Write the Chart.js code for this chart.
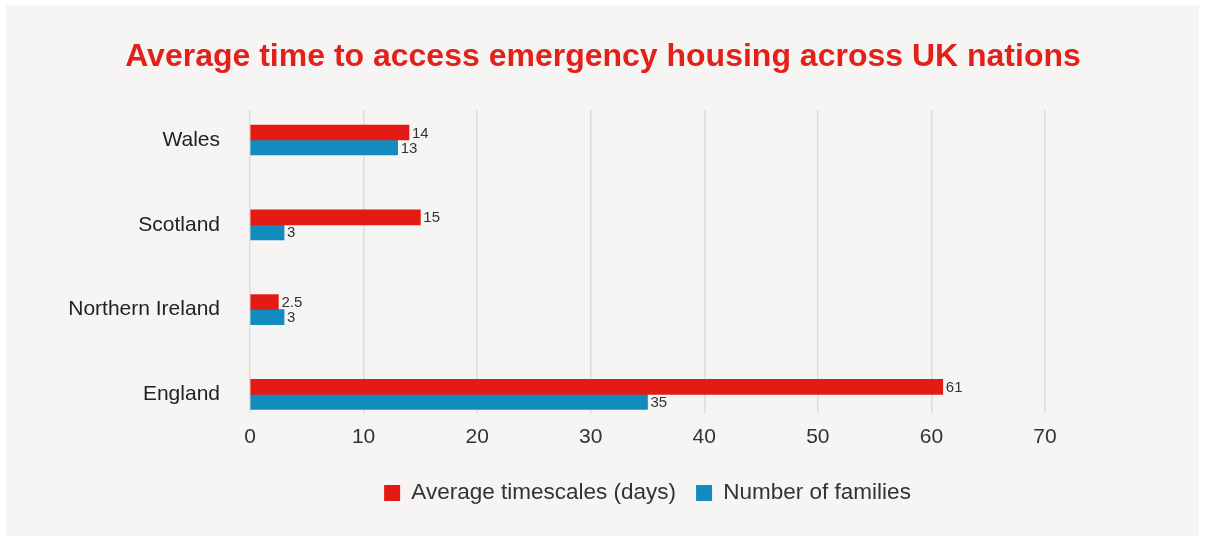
<!DOCTYPE html>
<html>
<head>
<meta charset="utf-8">
<script src="https://cdn.jsdelivr.net/npm/chart.js@4/dist/chart.umd.min.js"></script>
<style>
  html, body { margin: 0; padding: 0; background: #ffffff; }
  #wrap { position: relative; width: 1206px; height: 536px; }
</style>
</head>
<body>
<div id="wrap"><canvas id="c" width="1206" height="536"></canvas></div>
<script>
const categories = ["Wales", "Scotland", "Northern Ireland", "England"];
const avgTimescales = [14, 15, 2.5, 61];
const numFamilies = [13, 3, 3, 35];
const xTicks = [0, 10, 20, 30, 40, 50, 60, 70];
const seriesNames = ["Average timescales (days)", "Number of families"];
const titleText = "Average time to access emergency housing across UK nations";

const FONT = "'Liberation Sans', Arial, Helvetica, sans-serif";

const panelPlugin = {
  id: 'panel',
  beforeDraw(chart) {
    const ctx = chart.ctx;
    ctx.save();
    ctx.fillStyle = '#ffffff';
    ctx.fillRect(0, 0, chart.width, chart.height);
    ctx.fillStyle = '#f6f5f3';
    ctx.fillRect(6, 5, 1193, 531);
    ctx.restore();
  }
};

// centre the legend under the plot area (as in the reference)
const legendShiftPlugin = {
  id: 'legendShift',
  afterLayout(chart) {
    const lg = chart.legend;
    const ca = chart.chartArea;
    if (!lg || !ca) return;
    const shift = (ca.left + ca.right) / 2 - (lg.left + lg.right) / 2;
    lg.left += shift;
    lg.right += shift;
    if (lg.legendHitBoxes) lg.legendHitBoxes.forEach(h => { h.left += shift; });
  }
};

const labelPlugin = {
  id: 'barLabels',
  afterDatasetsDraw(chart) {
    const ctx = chart.ctx;
    ctx.save();
    ctx.font = "15px " + FONT;
    ctx.fillStyle = '#333333';
    ctx.textAlign = 'left';
    ctx.textBaseline = 'middle';
    chart.data.datasets.forEach((ds, di) => {
      const meta = chart.getDatasetMeta(di);
      meta.data.forEach((bar, i) => {
        const v = ds.data[i].x;
        ctx.fillText(String(v), bar.x + 3, bar.y + 1);
      });
    });
    ctx.restore();
  }
};

new Chart(document.getElementById('c'), {
  type: 'bar',
  data: {
    datasets: [
      {
        label: seriesNames[0],
        data: avgTimescales.map((v, i) => ({ x: v, y: i })),
        backgroundColor: '#e31b14',
        barThickness: 15,
        xAxisID: 'x',
        yAxisID: 'y'
      },
      {
        label: seriesNames[1],
        data: numFamilies.map((v, i) => ({ x: v, y: i })),
        backgroundColor: '#128cbe',
        barThickness: 15,
        xAxisID: 'x',
        yAxisID: 'y'
      }
    ]
  },
  options: {
    indexAxis: 'y',
    responsive: false,
    animation: false,
    devicePixelRatio: 1,
    layout: { padding: { left: 0, right: 0, top: 0, bottom: 21.75 } },
    plugins: {
      title: {
        display: true,
        text: titleText,
        color: '#e2211a',
        font: { family: FONT, size: 32, weight: 'bold' },
        padding: { top: 37.8, bottom: 33.8 }
      },
      legend: {
        display: true,
        position: 'bottom',
        labels: {
          color: '#333333',
          font: { family: FONT, size: 22.5 },
          boxWidth: 16,
          boxHeight: 16,
          padding: 20
        }
      },
      tooltip: { enabled: false }
    },
    scales: {
      x: {
        type: 'linear',
        min: 0,
        max: 70,
        afterBuildTicks(scale) { scale.ticks = xTicks.map(v => ({ value: v })); },
        afterFit(scale) { scale.height = 48.75; },
        ticks: {
          color: '#333333',
          font: { family: FONT, size: 21 },
          padding: 12
        },
        grid: { color: '#dcdcdc', lineWidth: 1.5, drawTicks: false },
        border: { display: false }
      },
      y: {
        type: 'linear',
        position: 'left',
        reverse: true,
        offset: false,
        min: -0.354,
        max: 3.219,
        afterBuildTicks(scale) { scale.ticks = categories.map((c, i) => ({ value: i })); },
        afterFit(scale) { scale.width = 250; },
        ticks: {
          color: '#222222',
          font: { family: FONT, size: 21 },
          padding: 22,
          callback: (v) => categories[v]
        },
        grid: { display: false },
        border: { display: false }
      },
      y2: {
        type: 'linear',
        position: 'right',
        display: true,
        afterFit(scale) { scale.width = 161; },
        ticks: { display: false },
        grid: { display: false },
        border: { display: false }
      }
    }
  },
  plugins: [panelPlugin, legendShiftPlugin, labelPlugin]
});
</script>
</body>
</html>
